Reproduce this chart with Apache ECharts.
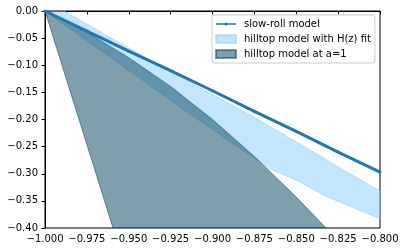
<!DOCTYPE html>
<html>
<head>
<meta charset="utf-8">
<script src="https://cdn.jsdelivr.net/npm/echarts@6/dist/echarts.min.js"></script>
<style>
html,body{margin:0;padding:0;background:#fff;}
#chart{width:405px;height:252px;}
</style>
</head>
<body>
<div id="chart"></div>
<script>
// slow-roll model line
const slowX = [-1, -0.975, -0.95, -0.925, -0.9, -0.875, -0.85, -0.825, -0.8];
const slowY = [0, -0.037, -0.074, -0.110, -0.147, -0.185, -0.222, -0.260, -0.297];

// hilltop model with H(z) fit band
const fitUpperX = [-1, -0.975, -0.95, -0.925, -0.9, -0.875, -0.85, -0.825, -0.8];
const fitUpperY = [0.020, -0.024, -0.068, -0.112, -0.154, -0.196, -0.241, -0.287, -0.332];
const fitLowerX = [-1, -0.9552, -0.9093, -0.8657, -0.8478, -0.8328, -0.8];
const fitLowerY = [0, -0.098, -0.199, -0.291, -0.315, -0.341, -0.383];

// hilltop model at a=1 band
const a1UpperX = [-1, -0.975, -0.95, -0.925, -0.9, -0.875, -0.85, -0.8322];
const a1UpperY = [0, -0.039, -0.086, -0.139, -0.200, -0.268, -0.343, -0.400];
const a1LowerX = [-1, -0.9594];
const a1LowerY = [0, -0.400];

const xTicks = {min: -1, max: -0.8, step: 0.025};
const yTicks = {min: -0.4, max: 0, step: 0.05};

const names = ['slow-roll model', 'hilltop model with H(z) fit', 'hilltop model at a=1'];

function bandPoints(api, ux, uy, lx, ly) {
  const pts = [];
  for (let i = 0; i < ux.length; i++) pts.push(api.coord([ux[i], uy[i]]));
  for (let i = lx.length - 1; i >= 0; i--) pts.push(api.coord([lx[i], ly[i]]));
  return pts;
}

function bandSeries(name, ux, uy, lx, ly, fill, stroke, z) {
  return {
    name: name,
    type: 'custom',
    z: z,
    itemStyle: {color: fill, borderColor: stroke, borderWidth: 1},
    data: [[ux[0], uy[0]]],
    encode: {x: 0, y: 1},
    renderItem: function (params, api) {
      const cs = params.coordSys;
      return {
        type: 'group',
        clipPath: {type: 'rect', shape: {x: cs.x, y: cs.y, width: cs.width, height: cs.height}},
        children: [{
          type: 'polygon',
          shape: {points: bandPoints(api, ux, uy, lx, ly)},
          style: {fill: fill, stroke: stroke, lineWidth: 1}
        }]
      };
    }
  };
}

const font = 'DejaVu Sans';
const lineIcon = 'path://M0,3.3L20,3.3L20,4.7L0,4.7Z M11.6,4A1.6,1.6 0 1 1 8.4,4A1.6,1.6 0 1 1 11.6,4Z';
const chart = echarts.init(document.getElementById('chart'), null, {renderer: 'canvas'});
chart.setOption({
  animation: false,
  backgroundColor: '#fff',
  grid: {left: 45, right: 25, top: 11, bottom: 24, show: true, borderColor: '#000', borderWidth: 1, backgroundColor: 'transparent'},
  xAxis: {
    type: 'value', min: xTicks.min, max: xTicks.max, interval: xTicks.step,
    axisLine: {show: true, lineStyle: {color: '#000', width: 1}},
    axisTick: {show: true, inside: false, length: 3.5, lineStyle: {color: '#000'}},
    splitLine: {show: false},
    axisLabel: {margin: 6, color: '#000', fontFamily: font, fontSize: 10,
      formatter: v => v.toFixed(3).replace('-', '\u2212')}
  },
  yAxis: {
    type: 'value', min: yTicks.min, max: yTicks.max, interval: yTicks.step,
    axisLine: {show: true, lineStyle: {color: '#000', width: 1}},
    axisTick: {show: true, inside: false, length: 3.5, lineStyle: {color: '#000'}},
    splitLine: {show: false},
    axisLabel: {margin: 7, color: '#000', fontFamily: font, fontSize: 10,
      formatter: v => (Math.abs(v) < 1e-9 ? 0 : v).toFixed(2).replace('-', '\u2212')}
  },
  legend: {
    orient: 'vertical', left: 212, top: 15,
    padding: [3, 4, 3, 3],
    itemWidth: 20, itemHeight: 8, itemGap: 3,
    backgroundColor: 'rgba(255,255,255,0.8)',
    borderColor: '#cccccc', borderWidth: 1, borderRadius: 3,
    textStyle: {fontFamily: font, fontSize: 10, color: '#000', lineHeight: 12, padding: [0, 0, 0, 3]},
    data: [
      {name: names[0], icon: lineIcon, itemStyle: {color: '#1f77b4', borderWidth: 0}},
      {name: names[1], icon: 'rect'},
      {name: names[2], icon: 'rect'}
    ]
  },
  series: [
    bandSeries(names[1], fitUpperX, fitUpperY, fitLowerX, fitLowerY,
      'rgba(135,206,250,0.5)', 'rgba(135,206,250,0.5)', 1),
    bandSeries(names[2], a1UpperX, a1UpperY, a1LowerX, a1LowerY,
      'rgba(0,63,92,0.5)', 'rgba(0,63,92,0.5)', 2),
    {
      name: names[0], type: 'line', z: 3,
      data: slowX.map((x, i) => [x, slowY[i]]),
      symbol: 'circle', symbolSize: 3, showSymbol: true,
      lineStyle: {color: '#1f77b4', width: 3},
      itemStyle: {color: '#1f77b4'}
    }
  ]
});
</script>
</body>
</html>
